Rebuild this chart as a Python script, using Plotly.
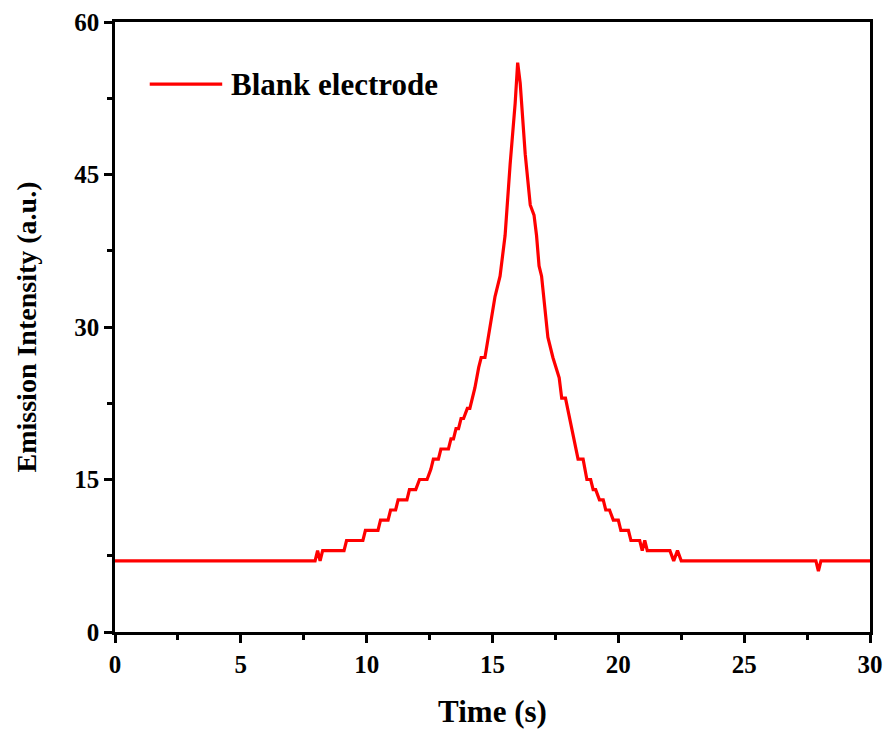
import plotly.graph_objects as go

# Data: vertices of the measured emission trace (time in s, intensity in a.u.)
time_s = [0, 7.95, 8.05, 8.15, 8.25, 9.1, 9.2, 9.85, 9.95, 10.45, 10.55, 10.85, 10.95,
          11.15, 11.25, 11.6, 11.7, 11.95, 12.1, 12.4, 12.55, 12.65, 12.85, 12.95, 13.25,
          13.35, 13.45, 13.55, 13.65, 13.75, 13.85, 14.0, 14.1, 14.3, 14.45, 14.55, 14.7,
          14.9, 15.1, 15.3, 15.5, 15.7, 15.9, 16.0, 16.1, 16.3, 16.5, 16.65, 16.75, 16.85,
          16.95, 17.2, 17.4, 17.65, 17.75, 17.9, 18.4, 18.6, 18.75, 18.9, 19.0, 19.1, 19.25,
          19.4, 19.5, 19.65, 19.8, 20.0, 20.1, 20.4, 20.5, 20.85, 20.95, 21.05, 21.15,
          22.05, 22.2, 22.35, 22.5, 27.85, 27.95, 28.05, 30]
intensity = [7, 7, 8, 7, 8, 8, 9, 9, 10, 10, 11, 11, 12,
             12, 13, 13, 14, 14, 15, 15, 16, 17, 17, 18, 18,
             19, 19, 20, 20, 21, 21, 22, 22, 24, 26, 27, 27,
             30, 33, 35, 39, 46, 52, 56, 54, 47, 42, 41, 39, 36,
             35, 29, 27, 25, 23, 23, 17, 17, 15, 15, 14, 14, 13,
             13, 12, 12, 11, 11, 10, 10, 9, 9, 8, 9, 8,
             8, 7, 8, 7, 7, 6, 7, 7]
series_name = "Blank electrode"
x_ticks = [0, 5, 10, 15, 20, 25, 30]
y_ticks = [0, 15, 30, 45, 60]

FONT = "Liberation Serif"
RED = "#ff0000"

fig = go.Figure()
fig.add_trace(go.Scatter(x=time_s, y=intensity, mode="lines", name=series_name,
                         line=dict(color=RED, width=3.2), showlegend=False))

axis_common = dict(
    showline=True, linecolor="black", linewidth=2.5, mirror=True,
    ticks="outside", tickwidth=2.5, ticklen=8, tickcolor="black",
    showgrid=False, zeroline=False, automargin=False,
    tickfont=dict(family=FONT, size=25, color="black", weight="bold"),
)
fig.update_xaxes(range=[0, 30], tickvals=x_ticks, ticktext=[str(v) for v in x_ticks],
                 minor=dict(ticks="outside", ticklen=5, tickwidth=2.5, dtick=2.5, tick0=0,
                            tickcolor="black"),
                 title=dict(text="<b>Time (s)</b>", font=dict(family=FONT, size=31, color="black"),
                            standoff=24),
                 **axis_common)
fig.update_yaxes(range=[0, 60], tickvals=y_ticks, ticktext=[str(v) for v in y_ticks],
                 minor=dict(ticks="outside", ticklen=5, tickwidth=2.5, dtick=7.5, tick0=0,
                            tickcolor="black"),
                 title=dict(text="<b>Emission Intensity (a.u.)</b>",
                            font=dict(family=FONT, size=28, color="black"), standoff=30),
                 **axis_common)

# legend drawn in the plot area's paper coordinates
fig.add_shape(type="line", xref="paper", yref="paper", x0=0.046, x1=0.142, y0=0.898, y1=0.898,
              line=dict(color=RED, width=3.2))
fig.add_annotation(xref="paper", yref="paper", x=0.151, y=0.898, xanchor="left", yanchor="middle",
                   text="<b>" + series_name + "</b>", showarrow=False,
                   font=dict(family=FONT, size=31, color="black"))

fig.update_layout(width=887, height=731, margin=dict(l=115, r=17, t=22, b=99),
                  plot_bgcolor="white", paper_bgcolor="white")
fig.write_html("out.html")
